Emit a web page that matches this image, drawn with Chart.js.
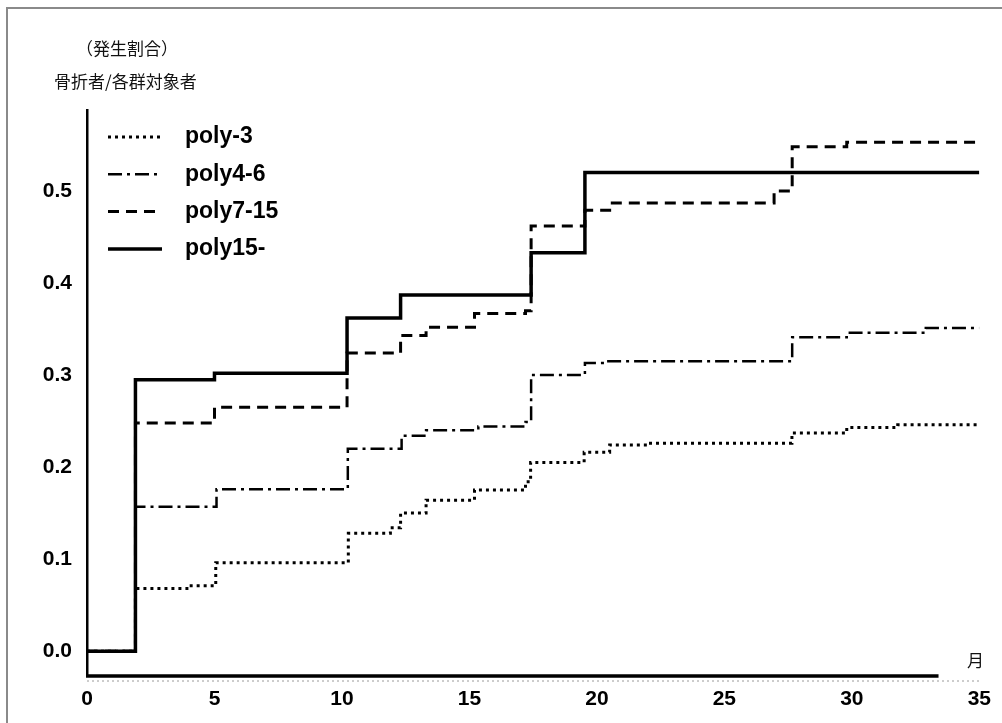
<!DOCTYPE html>
<html lang="ja">
<head>
<meta charset="utf-8">
<title>発生割合</title>
<script src="https://cdn.jsdelivr.net/npm/chart.js@4.4.1/dist/chart.umd.min.js"></script>
<style>
  html, body { margin: 0; padding: 0; background: #fff; }
  .wrap { position: relative; width: 1002px; height: 723px; overflow: hidden; }
  .frame { position: absolute; left: 6px; top: 7px; right: 0; bottom: 0;
           border-left: 2px solid #8a8a8a; border-top: 2px solid #8a8a8a; }
  canvas { position: absolute; left: 0; top: 0; }
  .note { position: absolute; font-family: "Noto Sans CJK JP", sans-serif;
          font-size: 17px; line-height: 17px; color: #111; white-space: nowrap; }
</style>
</head>
<body>
<div class="wrap">
  <div class="frame"></div>
  <canvas id="kmChart" width="1002" height="723"></canvas>
  <div class="note" style="left:76px;top:39px;">（発生割合）</div>
  <div class="note" style="left:54px;top:72px;">骨折者/各群対象者</div>
  <div class="note" style="left:967px;top:651px;">月</div>
</div>
<script>
// months (x) and cumulative fracture rate (y) per group
const seriesNames = ['poly-3', 'poly4-6', 'poly7-15', 'poly15-'];

const poly3Months = [0, 1.9, 4.0, 5.05, 10.25, 11.9, 12.3, 13.3, 15.2, 17.2, 17.4, 19.5, 20.5, 22.0, 27.65, 29.8, 31.8, 35];
const poly3Rate   = [0, 0.068, 0.071, 0.096, 0.128, 0.134, 0.15, 0.164, 0.175, 0.184, 0.205, 0.216, 0.224, 0.226, 0.237, 0.243, 0.246, 0.246];

const poly46Months = [0, 1.9, 5.08, 10.23, 12.34, 13.3, 15.35, 17.2, 17.42, 19.53, 20.4, 27.66, 29.8, 32.9, 35];
const poly46Rate   = [0, 0.157, 0.176, 0.22, 0.234, 0.24, 0.244, 0.249, 0.30, 0.313, 0.315, 0.341, 0.346, 0.351, 0.351];

const poly715Months = [0, 1.9, 5.0, 10.2, 12.3, 13.3, 15.2, 17.2, 17.42, 19.53, 20.5, 26.95, 27.66, 29.8, 35];
const poly715Rate   = [0, 0.248, 0.265, 0.324, 0.343, 0.352, 0.367, 0.37, 0.462, 0.479, 0.487, 0.50, 0.548, 0.553, 0.553];

const poly15Months = [0, 1.9, 5.0, 10.2, 12.3, 17.42, 19.53, 35];
const poly15Rate   = [0, 0.295, 0.302, 0.362, 0.387, 0.433, 0.52, 0.52];

const xTicks = [0, 5, 10, 15, 20, 25, 30, 35];
const yTicks = [0, 0.1, 0.2, 0.3, 0.4, 0.5];

const toPoints = (xs, ys) => xs.map((x, i) => ({ x, y: ys[i] }));

const lineStyles = [
  { dash: [3, 4], width: 3 },
  { dash: [14, 5, 3, 5], width: 2.5 },
  { dash: [11, 7], width: 3 },
  { dash: [], width: 3.5 }
];

const allSeries = [
  toPoints(poly3Months, poly3Rate),
  toPoints(poly46Months, poly46Rate),
  toPoints(poly715Months, poly715Rate),
  toPoints(poly15Months, poly15Rate)
];

// legend drawn inside the plot + the short x axis line, like the original scan
const decorations = {
  id: 'decorations',
  afterDatasetsDraw(chart) {
    const { ctx, chartArea, scales } = chart;
    ctx.save();

    // faint dotted scan line under the axis
    ctx.strokeStyle = '#9a9a9a';
    ctx.lineWidth = 1;
    ctx.setLineDash([2, 3]);
    ctx.beginPath();
    ctx.moveTo(chartArea.left, chartArea.bottom + 5);
    ctx.lineTo(chartArea.right, chartArea.bottom + 5);
    ctx.stroke();

    // solid part of the x axis
    ctx.setLineDash([]);
    ctx.strokeStyle = '#000';
    ctx.lineWidth = 3.5;
    ctx.beginPath();
    ctx.moveTo(chartArea.left - 1, chartArea.bottom);
    ctx.lineTo(scales.x.getPixelForValue(33.4), chartArea.bottom);
    ctx.stroke();

    ctx.font = 'bold 23px "Liberation Sans", Arial, sans-serif';
    ctx.fillStyle = '#000';
    ctx.textBaseline = 'middle';
    chart.data.datasets.forEach((ds, i) => {
      const y = chartArea.top + 27 + i * 37.3;
      ctx.strokeStyle = '#000';
      ctx.lineWidth = ds.borderWidth;
      ctx.setLineDash(ds.borderDash);
      ctx.beginPath();
      ctx.moveTo(chartArea.left + 21, y);
      ctx.lineTo(chartArea.left + 75, y);
      ctx.stroke();
      ctx.fillText(ds.label, chartArea.left + 98, y);
    });
    ctx.restore();
  }
};

new Chart(document.getElementById('kmChart'), {
  type: 'line',
  data: {
    datasets: allSeries.map((pts, i) => ({
      label: seriesNames[i],
      data: pts,
      stepped: 'before',
      borderColor: '#000',
      borderWidth: lineStyles[i].width,
      borderDash: lineStyles[i].dash,
      borderCapStyle: 'butt',
      pointRadius: 0,
      fill: false
    }))
  },
  options: {
    responsive: false,
    animation: false,
    layout: { padding: { top: 110, right: 19, left: 0, bottom: 0 } },
    plugins: {
      legend: { display: false },
      tooltip: { enabled: false }
    },
    scales: {
      x: {
        type: 'linear',
        min: 0,
        max: 35,
        afterFit(scale) { scale.height = 47; },
        afterBuildTicks(scale) { scale.ticks = xTicks.map(v => ({ value: v })); },
        grid: { display: false, drawTicks: false },
        border: { display: false },
        ticks: {
          padding: 11,
          color: '#000',
          font: { family: '"Liberation Sans", Arial, sans-serif', size: 21, weight: 'bold' },
          maxRotation: 0,
          callback: v => String(v)
        }
      },
      y: {
        min: -0.027,
        max: 0.588,
        afterFit(scale) { scale.width = 87; },
        afterBuildTicks(scale) { scale.ticks = yTicks.map(v => ({ value: v })); },
        grid: { display: false, drawTicks: false },
        border: { display: true, color: '#000', width: 2.5 },
        ticks: {
          padding: 15,
          color: '#000',
          font: { family: '"Liberation Sans", Arial, sans-serif', size: 21, weight: 'bold' },
          callback: v => Number(v).toFixed(1)
        }
      }
    }
  },
  plugins: [decorations]
});
</script>
</body>
</html>
